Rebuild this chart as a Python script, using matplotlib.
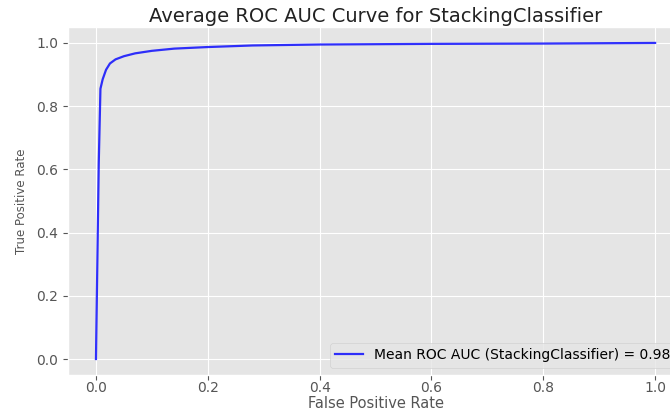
import numpy as np
import matplotlib.pyplot as plt

plt.style.use('ggplot')

# mean ROC curve
fpr = [0.0, 0.005, 0.008, 0.012, 0.018, 0.025, 0.035, 0.05, 0.07, 0.1, 0.14, 0.2,
       0.28, 0.4, 0.6, 0.8, 1.0]
tpr = [0.0, 0.62, 0.855, 0.885, 0.915, 0.935, 0.948, 0.958, 0.967, 0.975, 0.982, 0.987,
       0.992, 0.995, 0.997, 0.998, 1.0]
mean_auc = 0.98
model_name = 'StackingClassifier'

fig = plt.figure(figsize=(6.7, 4.11), dpi=100)
ax = fig.add_axes([0.1015, 0.088, 0.918, 0.846])

ax.plot(fpr, tpr, color='blue', lw=1.6, alpha=0.8,
        label=f'Mean ROC AUC ({model_name}) = {mean_auc:.2f}')

ax.tick_params(axis='x', pad=1)
ax.set_xlabel('False Positive Rate', fontsize=10.5)
ax.xaxis.set_label_coords(0.5, -0.062)
ax.set_ylabel('True Positive Rate', fontsize=8.5, labelpad=6)
ax.set_title(f'Average ROC AUC Curve for {model_name}', fontsize=14, color='#222222', pad=4)
ax.legend(loc='lower right', fontsize=10, facecolor='#e5e5e5')

plt.savefig('out.png', dpi=100)
